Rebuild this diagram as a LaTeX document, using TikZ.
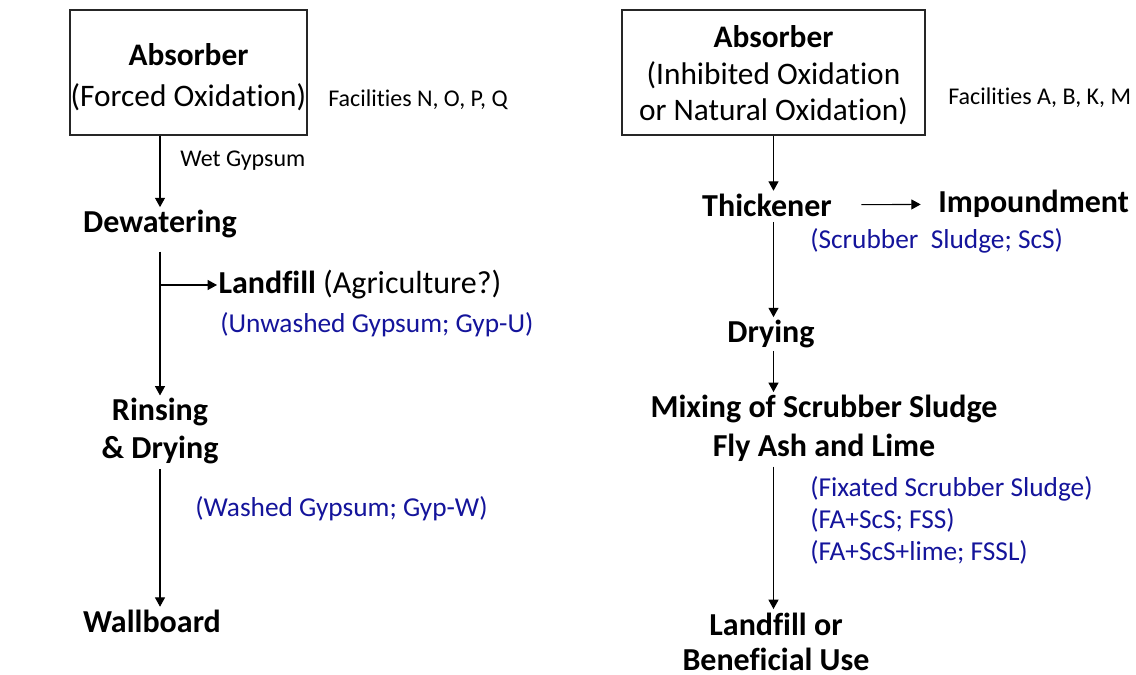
\documentclass[tikz,border=0pt]{standalone}
\usepackage{fontspec}
\setmainfont{Carlito}[Ligatures={NoCommon,NoContextual}]
\usepackage{xcolor}
\usetikzlibrary{arrows.meta, positioning}

\definecolor{gypblue}{RGB}{20,20,155}

\begin{document}
\begin{tikzpicture}[
  x=0.75pt, y=-0.75pt,
  box/.style={rectangle, draw=black!85, line width=0.8pt, align=center,
             inner sep=0pt, font=\fontsize{23.5}{31}\selectfont},
  stage/.style={font=\bfseries\fontsize{24}{28}\selectfont, align=center, inner sep=2pt},
  facility/.style={font=\fontsize{18}{22}\selectfont, anchor=west, inner sep=0pt},
  product/.style={font=\fontsize{20.5}{24}\selectfont, text=gypblue, anchor=west,
                  align=left, inner sep=0pt},
  arrow/.style={-{Triangle[length=7pt, width=7.5pt]}, line width=0.8pt}
]
\useasboundingbox (0,0) rectangle (1136,675);

% forced oxidation (left)
\node[box, minimum width=177.75pt, minimum height=93.75pt] (absL) at (188.5,72.5)
  {\rule{0pt}{24pt}\textbf{Absorber}\\(Forced Oxidation)};
\node[facility] (facL) at (328,100) {Facilities N, O, P, Q};
\node[facility] (wetgyp) at (180,161) {Wet Gypsum};
\node[stage] (dewater) at (160,224) {Dewatering};
\node[stage, anchor=west, inner xsep=1pt] (landL) at (217,285) {Landfill {\mdseries(Agriculture?)}};
\node[product] (gypU) at (220,325) {(Unwashed Gypsum; Gyp-U)};
\node[stage] (rinse) at (160,431) {Rinsing\\\& Drying};
\node[product] (gypW) at (195,509) {(Washed Gypsum; Gyp-W)};
\node[stage] (wall) at (152,621) {Wallboard};

% inhibited / natural oxidation (right)
\node[box, minimum width=227.25pt, minimum height=93.75pt,
      font=\fontsize{23.5}{27.5}\selectfont] (absR) at (773.5,72.5)
  {\rule{0pt}{21pt}\textbf{Absorber}\\(Inhibited Oxidation\\or Natural Oxidation)};
\node[facility] (facR) at (948,98) {Facilities A, B, K, M};
\node[stage] (thick) at (767,205) {Thickener};
\node[stage, anchor=west, inner xsep=0pt] (impound) at (938,204) {Impoundment};
\node[product] (scs) at (810,241) {(Scrubber\ \ Sludge; ScS)};
\node[stage] (dry) at (771,334) {Drying};
\node[stage, font=\bfseries\fontsize{24}{29}\selectfont] (mix) at (824,428)
  {Mixing of Scrubber Sludge\\Fly Ash and Lime};
\node[product] (fixated) at (810,520)
  {(Fixated Scrubber Sludge)\\(FA+ScS; FSS)\\(FA+ScS+lime; FSSL)};
\node[stage, font=\bfseries\fontsize{24}{26}\selectfont, inner sep=0pt] (final) at (776,642)
  {Landfill or\\Beneficial Use};

\draw[arrow] (absL.south -| dewater) -- (dewater);
\draw[arrow, shorten <=8pt] (dewater) -- (rinse);
\draw[arrow] (dewater |- landL.west) -- (landL.west);
\draw[arrow, shorten <=2pt] (rinse) -- (rinse |- wall.north);

\draw[arrow] (absR.south) -- (absR.south |- thick.north);
\draw[arrow, shorten <=20pt, shorten >=13pt] (thick) -- (impound);
\draw[arrow, shorten <=2pt] (absR.south |- thick.south) -- (absR.south |- dry.north);
\draw[arrow] (dry.south -| absR.south) -- (absR.south |- mix.north);
\draw[arrow, shorten <=2pt, shorten >=3pt] (mix.south -| absR.south) -- (absR.south |- final.north);

\end{tikzpicture}
\end{document}
